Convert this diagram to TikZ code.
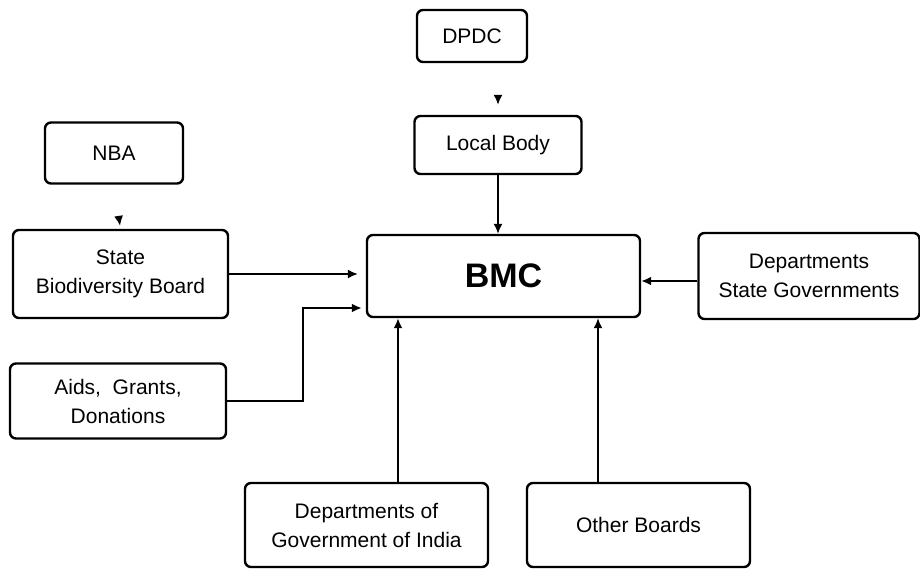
\documentclass[tikz,border=0pt]{standalone}
\usepackage{fontspec}
\setmainfont{Liberation Sans}
\usetikzlibrary{calc,positioning,arrows,arrows.meta}

\begin{document}
\begin{tikzpicture}
    \tikzset{x=1pt,y=-1pt,every path/.style={>={Latex[length=10pt,width=9pt]}},
      box style/.style={draw,line width=2.4pt,rounded corners=6pt,align=center,
        font=\fontsize{21}{29}\selectfont,inner sep=2pt},
      link/.style={->,line width=1.6pt},
      dlink/.style={->,line width=2.6pt}}
    \useasboundingbox (0,0) rectangle (920,572);
    % top chain
    \node [box style,minimum width=110pt,minimum height=52pt] (dpdc) at (472,36) {DPDC};
    \node [box style,minimum width=167pt,minimum height=58pt] (lbody) at (498,145) {Local Body};
    \node [box style,minimum width=273pt,minimum height=82pt,
           font=\fontsize{34}{38}\selectfont\bfseries] (bmc) at (503.5,276) {BMC};
    % left side
    \node [box style,minimum width=138pt,minimum height=61pt] (nba) at (114,153) {NBA};
    \node [box style,minimum width=215pt,minimum height=88pt] (sbb) at (120.5,274) {State\\Biodiversity Board};
    \node [box style,minimum width=216pt,minimum height=75pt] (aids) at (118,401) {Aids,\ \ Grants,\\Donations};
    % right and bottom
    \node [box style,minimum width=221pt,minimum height=86pt] (dsg) at (809,276) {Departments\\State Governments};
    \node [box style,minimum width=243pt,minimum height=84pt] (dgi) at (366.5,525) {Departments of\\Government of India};
    \node [box style,minimum width=223pt,minimum height=84pt] (other) at (638.5,525) {Other Boards};

    \coordinate (bend) at (303,308);
    \coordinate (bmcin) at (bmc.west |- bend);

    \draw[link,shorten <=32pt,shorten >=10pt] (dpdc.south -| lbody) -- (lbody.north);
    \draw[link,shorten <=32pt,shorten >=3pt] (nba.south) -- (sbb.north);
    \draw[link] (lbody.south) -- (lbody.south |- bmc.north);
    \draw[link] (sbb.east) -- ($(sbb.east -| bmc.west)+(-8,0)$);
    \draw[dlink] (aids.east) -| (bend) -- ($(bmcin)+(-4,0)$);
    \draw[dlink] (dsg.west |- 0,281) -- (bmc.east |- 0,281);
    \draw[dlink] (dgi.north -| 398,0) -- (bmc.south -| 398,0);
    \draw[link] (other.north -| 598,0) -- (bmc.south -| 598,0);
\end{tikzpicture}
\end{document}
